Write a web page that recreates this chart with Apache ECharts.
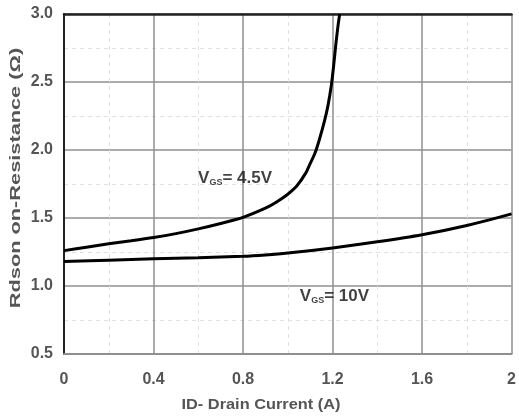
<!DOCTYPE html>
<html>
<head>
<meta charset="utf-8">
<script src="https://cdn.jsdelivr.net/npm/echarts@6/dist/echarts.min.js"></script>
<style>
html,body{margin:0;padding:0;background:#fff;}
#c{width:519px;height:419px;}
</style>
</head>
<body>
<div id="c"></div>
<script>
// Data
var vgs45 = [[0,1.26],[0.1,1.285],[0.2,1.31],[0.3,1.332],[0.4,1.356],[0.5,1.385],[0.6,1.42],[0.7,1.46],[0.8,1.505],[0.9,1.572],[0.95,1.618],[1.0,1.675],[1.04,1.735],[1.08,1.83],[1.1,1.9],[1.12,1.97],[1.14,2.07],[1.165,2.22],[1.18,2.33],[1.195,2.48],[1.205,2.62],[1.215,2.78],[1.225,2.92],[1.232,3.0]];
var vgs10 = [[0,1.18],[0.2,1.19],[0.4,1.2],[0.6,1.208],[0.8,1.218],[0.9,1.228],[1.0,1.242],[1.2,1.28],[1.4,1.325],[1.6,1.377],[1.8,1.445],[2.0,1.53]];
var xTickLabels = {'0':'0','0.4':'0.4','0.8':'0.8','1.2':'1.2','1.6':'1.6','2':'2'};
var yTickLabels = {'0.5':'0.5','1':'1.0','1.5':'1.5','2':'2.0','2.5':'2.5','3':'3.0'};
var labelVgs45 = [0.599, 1.794];
var labelVgs10 = [1.054, 0.923];
var xName = 'ID- Drain Current (A)';
var yName = 'Rdson on-Resistance (\u03A9)';

var font = 'Liberation Sans, Arial, sans-serif';
var txtColor = '#555';
var gridColor = '#8f8f8f';

var chart = echarts.init(document.getElementById('c'), null, {renderer:'canvas'});
var richLabel = {
  v:{fontSize:17,fontWeight:'bold',color:'#111',fontFamily:font,verticalAlign:'middle'},
  s:{fontSize:9,fontWeight:'bold',color:'#111',fontFamily:font,verticalAlign:'bottom',padding:[7,0,0,0]},
  t:{fontSize:17,fontWeight:'bold',color:'#111',fontFamily:font,verticalAlign:'middle'}
};
chart.setOption({
  animation:false,
  grid:{left:64,right:4,top:14,bottom:65,containLabel:false},
  xAxis:[{
    type:'value',min:0,max:2,interval:0.4,
    axisLine:{show:true,lineStyle:{color:gridColor,width:2}},
    axisTick:{show:false},
    axisLabel:{margin:18,color:txtColor,fontWeight:'bold',fontSize:16,fontFamily:font,
      formatter:function(v){var k=String(+v.toFixed(1));return xTickLabels[k]!==undefined?xTickLabels[k]:k;}},
    splitLine:{show:true,lineStyle:{color:gridColor,width:1.5}},
    minorTick:{show:false,splitNumber:2},
    minorSplitLine:{show:true,lineStyle:{color:'#e0e0e0',width:1,type:[4,4]}}
  },{
    type:'value',min:0,max:2,interval:0.4,position:'top',
    axisLine:{show:true,lineStyle:{color:'#222',width:2.5}},
    axisTick:{show:false},axisLabel:{show:false},splitLine:{show:false}
  }],
  yAxis:[{
    type:'value',min:0.5,max:3,interval:0.5,
    axisLine:{show:true,lineStyle:{color:gridColor,width:2}},
    axisTick:{show:false},
    axisLabel:{margin:11,color:txtColor,fontWeight:'bold',fontSize:16,fontFamily:font,
      formatter:function(v){var k=String(+v.toFixed(2));return yTickLabels[k]!==undefined?yTickLabels[k]:k;}},
    splitLine:{show:true,lineStyle:{color:gridColor,width:1.5}},
    minorTick:{show:false,splitNumber:2},
    minorSplitLine:{show:true,lineStyle:{color:'#e0e0e0',width:1,type:[4,4]}}
  },{
    type:'value',min:0.5,max:3,interval:0.5,position:'right',
    axisLine:{show:true,lineStyle:{color:'#222',width:2}},
    axisTick:{show:false},axisLabel:{show:false},splitLine:{show:false}
  }],
  series:[
    {type:'line',data:vgs45,smooth:0.25,symbol:'none',lineStyle:{color:'#000',width:3},z:5},
    {type:'line',data:vgs10,smooth:0.3,symbol:'none',lineStyle:{color:'#000',width:3},z:5},
    {type:'scatter',symbolSize:0,silent:true,z:6,
      data:[{value:labelVgs45,name:'4.5V'},{value:labelVgs10,name:'10V'}],
      label:{show:true,position:'right',distance:0,
        formatter:function(p){return '{v|V}{s|GS}{t|= '+p.name+'}';},
        rich:richLabel}}
  ],
  graphic:[{
    type:'text',x:261,y:405,scaleX:1.09,
    style:{text:xName,fill:txtColor,font:'bold 15px '+font,textAlign:'center',textVerticalAlign:'middle'}
  },{
    type:'text',x:16,y:178,rotation:Math.PI/2,scaleX:1.45,
    style:{text:yName,fill:txtColor,font:'bold 15px '+font,textAlign:'center',textVerticalAlign:'middle'}
  }]
});
</script>
</body>
</html>
